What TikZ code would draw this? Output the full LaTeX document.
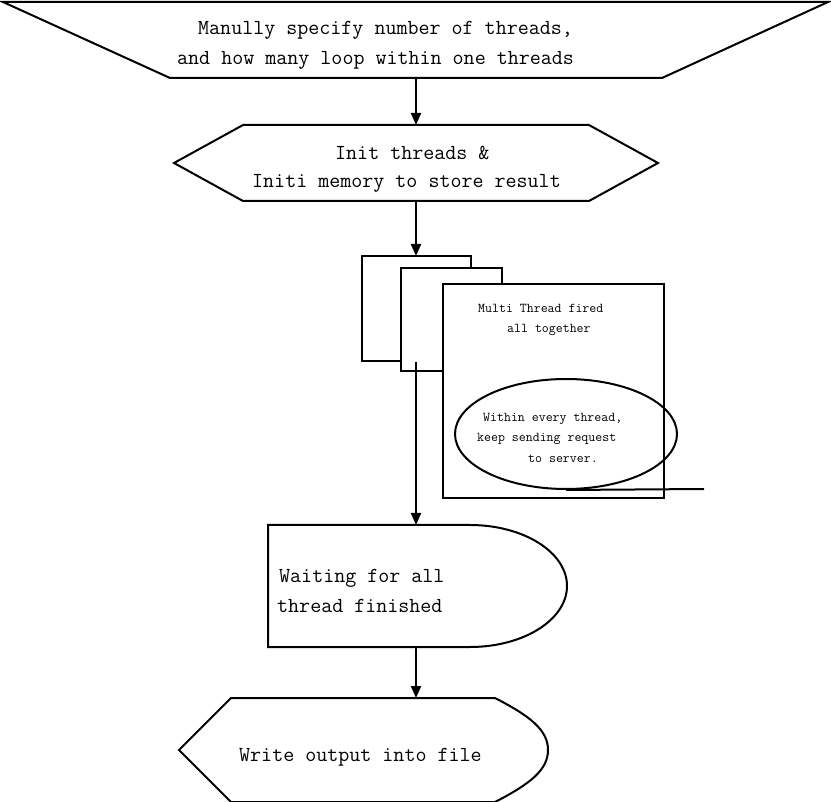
\documentclass[tikz,border=0pt]{standalone}
\usepackage{fontspec}
\usetikzlibrary{arrows.meta,shapes.geometric}
\begin{document}
\begin{tikzpicture}[x=1pt,y=-1pt,
  shp/.style={line width=2pt, line join=miter},
  bigtxt/.style={anchor=base west, inner sep=0pt, font=\fontsize{21.4}{24}\selectfont\ttfamily},
  smalltxt/.style={anchor=base west, inner sep=0pt, font=\fontsize{13.5}{16}\selectfont\ttfamily},
  conn/.style={line width=2pt, -{Triangle[length=12pt,width=10pt]}}]
\useasboundingbox (0,0) rectangle (831,802);

% 1. manual operation trapezoid
\draw[shp] (3,2) -- (828,2) -- (662,78) -- (170,78) -- cycle;
\node[bigtxt] (t1a) at (198,35) {Manully specify number of threads,};
\node[bigtxt] (t1b) at (177,65) {and how many loop within one threads};
\coordinate (manB) at (416,78);

% 2. preparation hexagon
\draw[shp] (243,125) -- (589,125) -- (658,163) -- (589,201) -- (243,201) -- (174,163) -- cycle;
\node[bigtxt] (t2a) at (335,160) {Init threads \&};
\node[bigtxt] (t2b) at (252,188) {Initi memory to store result};
\coordinate (hexT) at (416,125);
\coordinate (hexB) at (416,201);

% 3. stacked thread boxes
\draw[shp, fill=white] (362,256) rectangle (471,361);
\draw[shp, fill=white] (401,268) rectangle (502,371);
\coordinate (stackT) at (416,256);
\coordinate (stackOut) at (416,362);
\draw[shp, fill=white] (443,284) rectangle (664,498);
\node[smalltxt] (t3a) at (478,313) {Multi Thread fired};
\node[smalltxt] (t3b) at (507,333) {all together};
\node[draw, shp, ellipse, minimum width=222pt, minimum height=110pt, inner sep=0pt] (ell) at (566,434) {};
\node[smalltxt] (t4a) at (483,422) {Within every thread,};
\node[smalltxt] (t4b) at (477,442) {keep sending request};
\node[smalltxt] (t4c) at (528,463) {to server.};
\coordinate (tail) at (704,489);
\draw[shp] (ell.south) -- (tail);

% 4. delay shape
\draw[shp] (268,525) -- (470,525) .. controls (523.6,525) and (567,552.3) .. (567,586)
  .. controls (567,619.7) and (523.6,647) .. (470,647) -- (268,647) -- cycle;
\node[bigtxt] (t5a) at (279,582) {Waiting for all};
\node[bigtxt] (t5b) at (277,612) {thread finished};
\coordinate (waitT) at (416,525);
\coordinate (waitB) at (416,647);

% 5. display shape
\draw[shp] (231,698) -- (495,698) .. controls (530,716) and (548,730) .. (548,750)
  .. controls (548,770) and (530,784) .. (495,802) -- (231,802) -- (179,750) -- cycle;
\node[bigtxt] (t6) at (239,761) {Write output into file};
\coordinate (dispT) at (416,698);

% connectors
\draw[conn] (manB) -- (hexT);
\draw[conn] (hexB) -- (stackT);
\draw[conn] (stackOut) -- (waitT);
\draw[conn] (waitB) -- (dispT);
\end{tikzpicture}
\end{document}
